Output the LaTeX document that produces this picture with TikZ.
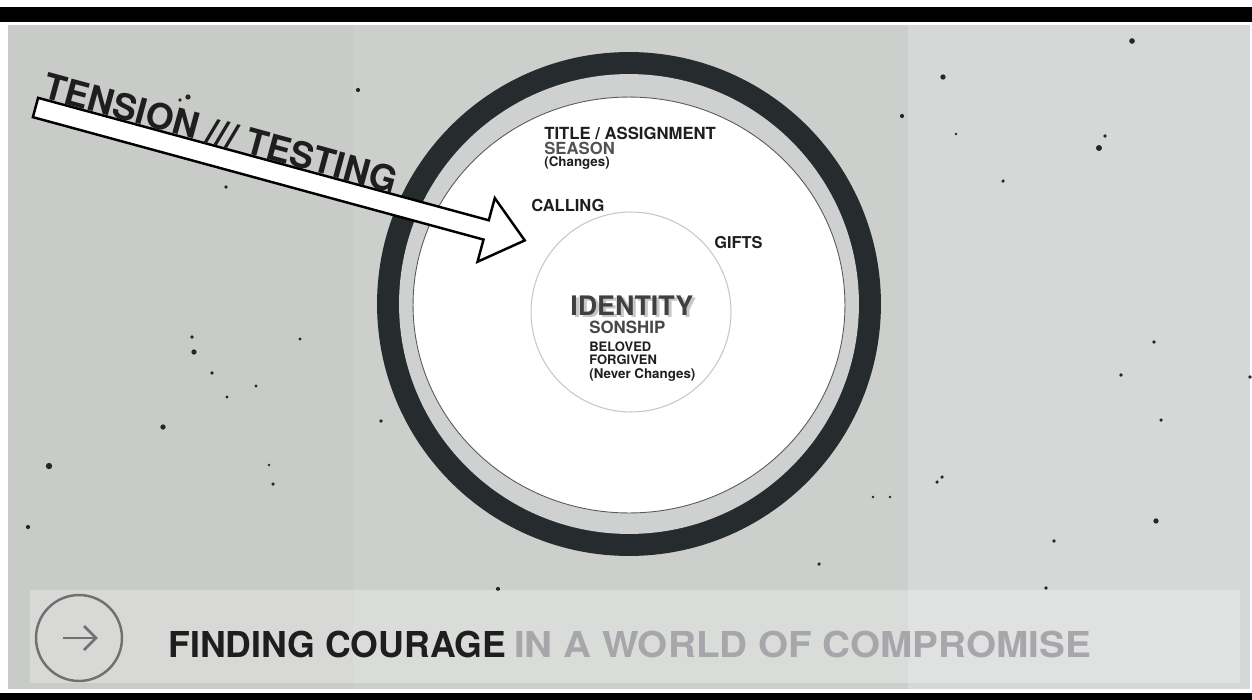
\documentclass[tikz,border=0pt]{standalone}
\usepackage{fontspec}
\setmainfont{TeX Gyre Heros}
\usetikzlibrary{positioning}

\definecolor{concL}{HTML}{C9CBC8}
\definecolor{concM}{HTML}{CDCFCD}
\definecolor{concR}{HTML}{D5D8D7}
\definecolor{ringc}{HTML}{262B2D}
\definecolor{gapc}{HTML}{CFD1D0}
\definecolor{ink}{HTML}{1E1E1E}
\definecolor{dim}{HTML}{A6A6AB}
\definecolor{iconc}{HTML}{707070}

\begin{document}
\begin{tikzpicture}[x=0.02cm,y=-0.02cm,
lbl/.style={inner sep=0pt,anchor=base west,text=ink,font=\bfseries\fontsize{9.5}{11}\selectfont},
note/.style={lbl,font=\bfseries\fontsize{7.6}{9}\selectfont},
speck/.style={fill=black!85},
tarrow/.style={draw=black,fill=white,line width=1.4pt,line join=miter}]
\useasboundingbox (0,0) rectangle (1252,700);
% frame and concrete
\fill[white] (0,0) rectangle (1252,700);
\fill[black] (0,7) rectangle (1252,22);
\fill[black] (0,693) rectangle (1252,700);
\fill[concL] (8,25) rectangle (353,689);
\fill[concM] (353,25) rectangle (908,689);
\fill[concR] (908,25) rectangle (1250,689);
\foreach \x/\y/\r in {1132/41/1.6,943/77/1.5,902/116/1.2,1099/148/1.7,1105/136/1.1,1003/181/1,
  956/134/.8,188/97/1.5,180/100/1,358/90/1.2,226/187/1,192/337/1,194/352/1.5,212/373/1,
  227/397/.9,256/386/.9,300/339/.9,163/427/1.5,49/466/1.8,28/527/1.2,273/484/1,269/465/.8,
  1154/342/1.1,1121/375/1.1,1250/377/1.1,1161/420/1,942/477/1,937/482/1,890/497/.8,
  1156/521/1.5,1054/541/1.1,1046/588/1.1,381/421/1.1,498/589/1.2,819/564/1,873/497/.8}
  \fill[speck] (\x,\y) circle (\r pt);
% banner strip
\fill[white,opacity=.28] (30,590) rectangle (1240,683);
% rings
\fill[ringc] (629,304) circle (5.04cm);
\fill[gapc] (629,304) circle (4.6cm);
\filldraw[fill=white,draw=black!65,line width=.5pt] (629,305) ellipse [x radius=4.32cm,y radius=4.16cm];
\draw[black!22,line width=.6pt] (631,312) circle (2cm);
% tension arrow
\begin{scope}[shift={(35.5,107.5)},rotate=-15.2]
\draw[tarrow] (0,-10) -- (467,-10) -- (467,-33) -- (507,0) -- (467,33) -- (467,10) -- (0,10) -- cycle;
\node[lbl,rotate=-15.2,font=\bfseries\fontsize{20.4}{24}\selectfont] (ten) at (3,-11) {TENSION /// TESTING};
\end{scope}
% labels in the disc
\node[lbl] (tit) at (544,139) {TITLE / ASSIGNMENT};
\node[lbl,text=black!68] (sea) at ([yshift=-0.3cm]tit.base west) {SEASON};
\node[note] (chg) at ([yshift=-0.26cm]sea.base west) {(Changes)};
\node[lbl,font=\bfseries\fontsize{9.4}{11}\selectfont] (cal) at (531,211) {CALLING};
\node[lbl,font=\bfseries\fontsize{9.3}{11}\selectfont] (gif) at (714,248) {GIFTS};
\node[lbl,text=black!22,font=\bfseries\fontsize{15.3}{18}\selectfont] (sha) at (573,317) {IDENTITY};
\node[lbl,text=black!75,font=\bfseries\fontsize{15.3}{18}\selectfont] (ide) at (570,315) {IDENTITY};
\node[lbl,text=black!72,font=\bfseries\fontsize{9.6}{11}\selectfont] (son) at (589,333) {SONSHIP};
\node[lbl,font=\bfseries\fontsize{7.4}{9}\selectfont] (bel) at ([yshift=-0.36cm]son.base west) {BELOVED};
\node[lbl,font=\bfseries\fontsize{7.4}{9}\selectfont] (frg) at ([yshift=-0.28cm]bel.base west) {FORGIVEN};
\node[note] (nev) at ([yshift=-0.28cm]frg.base west) {(Never Changes)};
% banner
\node[circle,draw=iconc,line width=1.4pt,minimum size=1.72cm,inner sep=0pt] (btn) at (79,638) {};
\draw[iconc,line width=1.5pt] (63,638) -- (96,638);
\draw[iconc,line width=1.5pt] (84,626) -- (96,638) -- (84,650);
\node[lbl,font=\bfseries\fontsize{20.3}{24}\selectfont] (fc) at (168,657) {FINDING COURAGE\kern4.5pt\textcolor{dim}{\scalebox{1.085}[1]{IN A WORLD OF COMPROMISE}}};
\end{tikzpicture}
\end{document}
